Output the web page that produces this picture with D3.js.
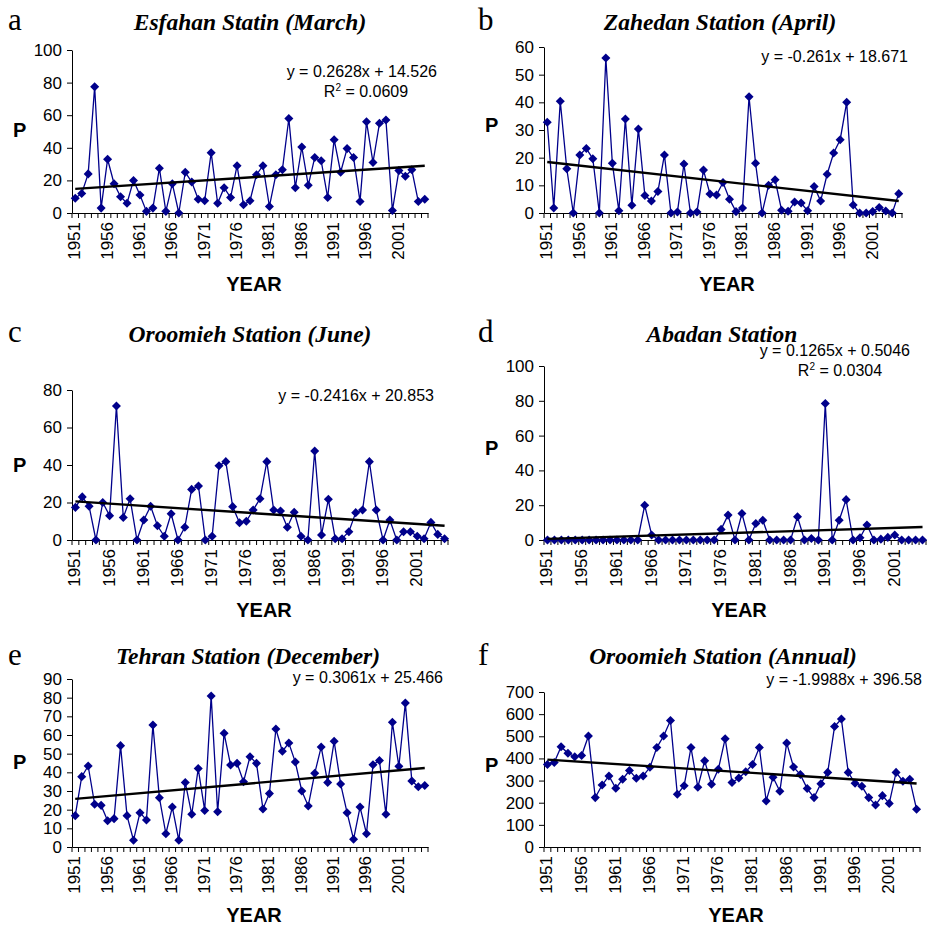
<!DOCTYPE html>
<html lang="en">
<head>
<meta charset="UTF-8">
<title>Precipitation trends</title>
<script src="https://cdn.jsdelivr.net/npm/d3@7"></script>
<style>
  body { margin: 0; background: #fff; }
  svg text { font-family: "Liberation Sans", Arial, sans-serif; fill: #000; }
  .title { font-family: "Liberation Serif", "Times New Roman", serif; font-weight: bold; font-style: italic; }
  .letter { font-family: "Liberation Serif", "Times New Roman", serif; }
</style>
</head>
<body>
<svg id="mainsvg" width="930" height="925"></svg>
<script>
// categories
const years = [1951,1952,1953,1954,1955,1956,1957,1958,1959,1960,1961,1962,1963,1964,1965,1966,1967,1968,1969,1970,
  1971,1972,1973,1974,1975,1976,1977,1978,1979,1980,1981,1982,1983,1984,1985,1986,1987,1988,1989,1990,
  1991,1992,1993,1994,1995,1996,1997,1998,1999,2000,2001,2002,2003,2004,2005];
const yearLabels = [1951,1956,1961,1966,1971,1976,1981,1986,1991,1996,2001];

// series values
const esfahanMarch = [9,12,24,77.5,3,33,18,10,6,20,11,1,3,27.5,1,18,0,25,19,8.5,
  7.5,37,6,15.5,9.5,29,5,7.5,23.5,29,4,23.5,26.5,58,15.5,40.5,17,34,32,9.5,
  45,25,39.5,34,7,56,31,55,57,1.5,26,22.5,26.5,7,8.5];
const zahedanApril = [32.8,1.8,40.4,16,0,21,23.3,19.6,0,56,18,0.8,34,2.8,30.4,6.3,4.3,7.8,21,0,
  0.4,17.7,0,0.4,15.5,6.9,6.5,11,5,0.5,1.8,42,18,0,10,12,1,0.6,4,3.6,
  0.8,9.6,4.3,14,21.7,26.5,40,2.9,0,0,0.5,2,0.7,0,7];
const oroomiehJune = [17.4,23,18,0,20,13,71.5,12,22,0,10.7,18,7.6,2,14,0,6.8,27,28.8,0,
  2,39.6,41.8,17.8,9.2,10,16,22,41.8,16,15.5,6.8,14.8,2,0,47.5,2.7,21.7,0.7,0.7,
  4.4,14.6,16,41.8,16,0,10.7,0,4.4,4.4,2,0.7,9.4,3,0.7];
const abadan = [0,0,0,0,0,0,0,0,0,0,0,0,0,0,20,2.9,0,0,0,0,
  0,0,0,0,0,6.1,14.3,0,15.2,0,9.5,11.4,0,0,0,0,13.3,0,0.8,0,
  78.5,0,11.4,23.2,0,1.3,8.6,0,0.5,1.5,2.9,0,0,0,0];
const tehranDecember = [16.8,37.7,43.4,22.9,22.3,14.1,15.2,54.3,16.8,3.6,18.4,14.5,65.4,26.4,7.1,21.4,3.6,34.5,17.5,42,
  19.6,80.9,18.9,60.9,43.9,44.8,35,48.4,44.8,20.4,28.6,63.2,51.3,55.7,45.5,30,22,39.5,53.6,34.5,
  56.6,33.8,18.4,4.1,21.4,7.1,44.1,46.3,17.5,66.8,43.2,77.1,35.4,32.3,32.9];
const oroomiehAnnual = [373,382,453,423,408,413,501,223,280,321,265,306,345,310,321,360,449,501,571,238,
  277,449,270,389,283,351,489,291,312,340,373,449,208,315,252,470,361,327,264,223,
  286,337,544,578,337,288,274,223,190,232,197,337,297,306,170];

// trend line coefficients (as printed on the chart): y = slope * x + intercept, x = 1..55
const trendSlopes = [0.2628, -0.261, -0.2416, 0.1265, 0.3061, -1.9988];
const trendIntercepts = [14.526, 18.671, 20.853, 0.5046, 25.466, 396.58];
const r2Values = ["0.0609", null, null, "0.0304", null, null];

// panel text
const panelLetters = ["a", "b", "c", "d", "e", "f"];
const panelTitles = ["Esfahan Statin (March)", "Zahedan Station (April)", "Oroomieh Station (June)",
  "Abadan Station", "Tehran Station (December)", "Oroomieh Station (Annual)"];
const equationTexts = ["y = 0.2628x + 14.526", "y = -0.261x + 18.671", "y = -0.2416x + 20.853",
  "y = 0.1265x + 0.5046", "y = 0.3061x + 25.466", "y = -1.9988x + 396.58"];
const yMaxes = [100, 60, 80, 100, 90, 700];
const ySteps = [20, 10, 20, 20, 10, 100];
const seriesList = [esfahanMarch, zahedanApril, oroomiehJune, abadan, tehranDecember, oroomiehAnnual];

// layout of each panel (pixels)
const layout = [
  {left: 72,  right: 428, top: 50,  bottom: 213, titleX: 250, titleY: 30,  letterX: 8,   letterY: 30,
   eqX: 437, eqY: 77,  r2X: 366, r2Y: 97,  pY: 130, yearY: 291},
  {left: 544, right: 902, top: 47,  bottom: 213, titleX: 720, titleY: 30,  letterX: 478, letterY: 30,
   eqX: 908, eqY: 62,  pY: 125, yearY: 291},
  {left: 72,  right: 448, top: 390, bottom: 540, titleX: 250, titleY: 342, letterX: 8,   letterY: 342,
   eqX: 434, eqY: 401, pY: 465, yearY: 617},
  {left: 544, right: 926, top: 366, bottom: 540, titleX: 722, titleY: 342, letterX: 478, letterY: 342,
   eqX: 910, eqY: 356, r2X: 840, r2Y: 376, pY: 448, yearY: 617},
  {left: 72,  right: 428, top: 679, bottom: 847, titleX: 248, titleY: 664, letterX: 8,   letterY: 665,
   eqX: 443, eqY: 683, pY: 762, yearY: 922},
  {left: 544, right: 920, top: 692, bottom: 847, titleX: 723, titleY: 664, letterX: 478, letterY: 665,
   eqX: 922, eqY: 685, pY: 765, yearY: 922}
];

const mainsvg = d3.select('#mainsvg');
const navy = '#00008b';
const diamond = d3.symbol(d3.symbolDiamond2 || d3.symbolSquare).size(52);

const renderPanel = (i) => {
  const L = layout[i];
  const values = seriesList[i];
  const data = years.map((yr, k) => ({year: yr, v: values[k], idx: k + 1}));
  const g = mainsvg.append('g').attr('class', 'panel');

  const xScale = d3.scaleBand().domain(years).range([L.left, L.right]).padding(0);
  const yScale = d3.scaleLinear().domain([0, yMaxes[i]]).range([L.bottom, L.top]);
  const bw = xScale.bandwidth();
  const cx = d => xScale(d.year) + bw / 2;

  // y axis
  const yAxis = g.append('g')
    .attr('transform', `translate(${L.left},0)`)
    .call(d3.axisLeft(yScale).tickValues(d3.range(0, yMaxes[i] + 1, ySteps[i])).tickSize(5).tickPadding(5).tickSizeOuter(0));
  yAxis.selectAll('text').style('font-size', '17px').attr('fill', '#000');
  yAxis.selectAll('line, path').attr('stroke', '#000');

  // x axis: tick at every category edge, label every 5 years
  const xAxis = g.append('g')
    .attr('transform', `translate(0,${L.bottom})`)
    .call(d3.axisBottom(xScale).tickValues(yearLabels).tickSize(0).tickSizeOuter(0));
  xAxis.select('.domain').attr('stroke', '#000');
  xAxis.selectAll('text')
    .style('font-size', '17px')
    .attr('fill', '#000')
    .attr('transform', 'rotate(-90)')
    .attr('text-anchor', 'end')
    .attr('x', -9)
    .attr('y', -1)
    .attr('dy', '0.35em');
  xAxis.selectAll('line.yt')
    .data(years.concat([null]))
    .join('line')
    .attr('class', 'yt')
    .attr('x1', d => d === null ? L.right : xScale(d))
    .attr('x2', d => d === null ? L.right : xScale(d))
    .attr('y1', 0).attr('y2', 5)
    .attr('stroke', '#000');

  // series line and markers
  const line = d3.line().x(cx).y(d => yScale(d.v));
  g.append('path')
    .datum(data)
    .attr('d', line)
    .attr('fill', 'none')
    .attr('stroke', navy)
    .attr('stroke-width', 1.3);

  g.selectAll('path.mark')
    .data(data)
    .join('path')
    .attr('class', 'mark')
    .attr('d', diamond)
    .attr('transform', d => `translate(${cx(d)},${yScale(d.v)})`)
    .attr('fill', navy);

  // linear trend line
  const first = data[0], last = data[data.length - 1];
  const trend = d => trendSlopes[i] * d.idx + trendIntercepts[i];
  g.append('line')
    .attr('x1', cx(first)).attr('y1', yScale(trend(first)))
    .attr('x2', cx(last)).attr('y2', yScale(trend(last)))
    .attr('stroke', '#000')
    .attr('stroke-width', 2.4);

  // texts
  g.append('text').attr('class', 'letter')
    .attr('x', L.letterX).attr('y', L.letterY)
    .style('font-size', '31px')
    .text(panelLetters[i]);
  g.append('text').attr('class', 'title')
    .attr('x', L.titleX).attr('y', L.titleY)
    .attr('text-anchor', 'middle')
    .style('font-size', '23.5px')
    .text(panelTitles[i]);
  g.append('text')
    .attr('x', L.eqX).attr('y', L.eqY)
    .attr('text-anchor', 'end')
    .style('font-size', '16px')
    .text(equationTexts[i]);
  if (r2Values[i]) {
    const r2 = g.append('text')
      .attr('x', L.r2X).attr('y', L.r2Y)
      .attr('text-anchor', 'middle')
      .style('font-size', '16px');
    r2.append('tspan').text('R');
    r2.append('tspan').attr('dy', -6).style('font-size', '10px').text('2');
    r2.append('tspan').attr('dy', 6).text(' = ' + r2Values[i]);
  }
  g.append('text')
    .attr('x', L.left - 59).attr('y', L.pY + 7)
    .style('font-size', '20px').style('font-weight', 'bold')
    .text('P');
  g.append('text')
    .attr('x', (L.left + L.right) / 2 + 4).attr('y', L.yearY)
    .attr('text-anchor', 'middle')
    .style('font-size', '20px').style('font-weight', 'bold')
    .text('YEAR');
};

d3.range(6).forEach(renderPanel);
</script>
</body>
</html>
